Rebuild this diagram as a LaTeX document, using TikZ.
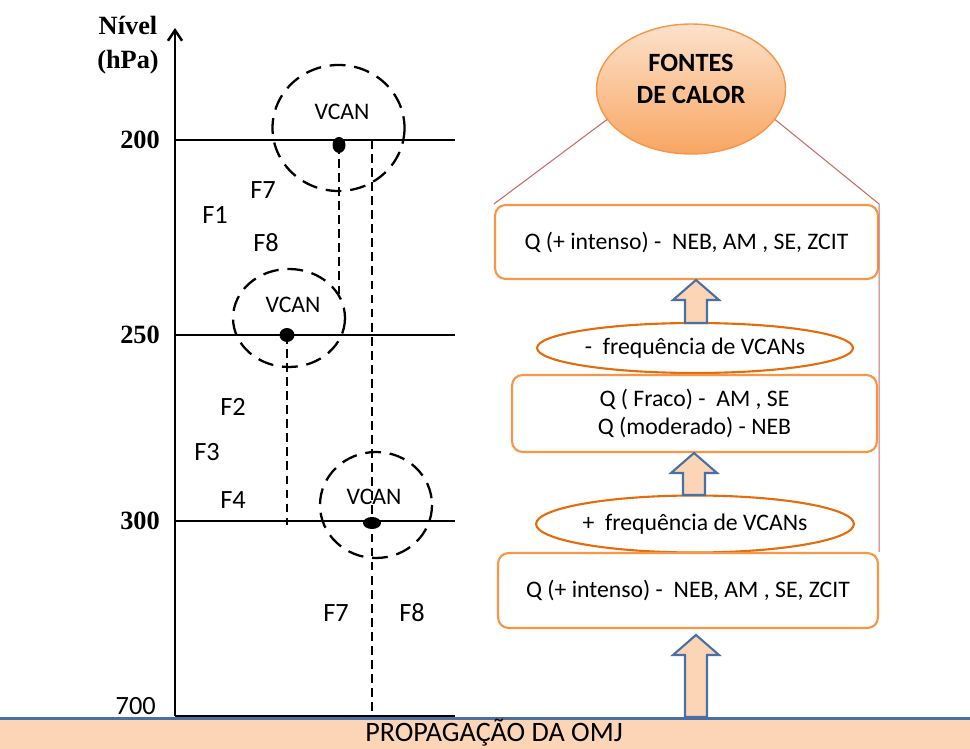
\documentclass[tikz,border=0pt]{standalone}
\usepackage{fontspec}
\setmainfont{Carlito}
\newfontfamily\serifnum{Liberation Serif}
\usetikzlibrary{shapes.geometric,arrows.meta}
\definecolor{BoxClr}{HTML}{F79646}
\definecolor{OvalClr}{HTML}{E46C0A}
\definecolor{PeachClr}{HTML}{FBD5B5}
\definecolor{ArrowClr}{HTML}{4A6FA5}
\definecolor{LinkClr}{HTML}{C0504D}

\begin{document}
\begin{tikzpicture}[x=0.02cm,y=-0.02cm,
  qbox/.style={draw=BoxClr,line width=1.2pt,rounded corners=6pt,fill=white,align=center,inner sep=0pt,font=\fontsize{13.5}{16}\selectfont},
  freq/.style={ellipse,draw=OvalClr,line width=1.2pt,fill=white,minimum width=6.32cm,inner sep=0pt,font=\fontsize{13.5}{16}\selectfont},
  pics/blockup/.style={code={
    \draw[ArrowClr,line width=1.2pt,fill=PeachClr,line join=miter]
      (-11,0) -- (-11,-#1+20) -- (-23,-#1+20) -- (0,-#1) -- (23,-#1+20) -- (11,-#1+20) -- (11,0) -- cycle;}},
  flbl/.style={font=\fontsize{15}{18}\selectfont},
  vlbl/.style={font=\fontsize{13.5}{16}\selectfont},
  nivel/.style={font=\serifnum\bfseries\fontsize{15}{19}\selectfont},
  vcan/.style={dash pattern=on 9pt off 5pt,line width=1.3pt},
  trace/.style={dash pattern=on 5pt off 3pt,line width=0.6pt},
  link/.style={draw=LinkClr!85,line width=0.6pt}]
\useasboundingbox (0,0) rectangle (970,749);

\fill[PeachClr] (0,718) rectangle (970,749);
\draw[ArrowClr,line width=1.2pt] (0,718.5) -- (970,718.5);
\node[font=\fontsize{16}{18}\selectfont] (omj) at (494,733) {PROPAGAÇÃO DA OMJ};

\coordinate (o) at (175,716);
\coordinate (top) at (175,28);
\draw[line width=1.4pt,-{Straight Barb[length=6pt,width=8pt]}] (o) -- (top);
\draw[line width=1.2pt] (o) -- (455,716);
\node[nivel,align=center] (nivel) at (128,45) {Nível\\(hPa)};
\foreach \y/\lab in {140/200,335/250,521/300}{
  \draw[line width=0.8pt] (175,\y) -- (455,\y);
  \node[nivel,anchor=east] (n\lab) at (166,\y) {\lab};
}
\node[flbl,anchor=east] (n700) at (162,706) {700};

\coordinate (d1) at (339,145);
\coordinate (d2) at (287,335);
\coordinate (d3) at (372,523);
\coordinate (t1) at (339,295);
\coordinate (t2) at (372,140);
\coordinate (t3) at (287,525);
\coordinate (t4) at (372,716);

\draw[vcan] (338.5,128) ellipse [x radius=66,y radius=63];
\draw[vcan] (289,318) ellipse [x radius=56,y radius=49];
\draw[vcan] (376,505) ellipse [x radius=56,y radius=53];
\fill (d1) ellipse [x radius=6.5,y radius=8];
\fill (d2) ellipse [x radius=7.5,y radius=7];
\fill (d3) ellipse [x radius=9,y radius=6];
\draw[trace] (d1) -- (t1);
\draw[trace] (t2) -- (t4);
\draw[trace] (d2) -- (t3);
\node[vlbl] (v1) at (342,112) {VCAN};
\node[vlbl] (v2) at (293,305) {VCAN};
\node[vlbl] (v3) at (374,497) {VCAN};

\node[flbl] (f7a) at (263,190) {F7};
\node[flbl] (f1) at (215,215) {F1};
\node[flbl] (f8a) at (266,243) {F8};
\node[flbl] (f2) at (233,407) {F2};
\node[flbl] (f3) at (207,452) {F3};
\node[flbl] (f4) at (233,500) {F4};
\node[flbl] (f7b) at (336,613) {F7};
\node[flbl] (f8b) at (412,613) {F8};

\node[ellipse,draw=BoxClr,line width=0.8pt,top color=PeachClr!70,bottom color=BoxClr!85,minimum width=3.78cm,minimum height=2.6cm] (fontes) at (691,89) {};
\node[align=center,font=\bfseries\fontsize{15}{18}\selectfont] (fontestxt) at (691,79) {FONTES\\DE CALOR};
\node[qbox,minimum width=7.66cm,minimum height=1.48cm] (qtop) at (686.5,242) {Q (+ intenso) -\ \ NEB, AM , SE, ZCIT};
\node[freq,minimum height=1.0cm] (fmenos) at (695,348) {-\ \ frequência de VCANs};
\node[qbox,minimum width=7.3cm,minimum height=1.54cm] (qmid) at (694.5,413.5) {Q ( Fraco) -\ \ AM , SE\\Q (moderado) - NEB};
\node[freq,minimum height=1.14cm] (fmais) at (695,524) {+\ \ frequência de VCANs};
\node[qbox,minimum width=7.6cm,minimum height=1.5cm] (qbot) at (688,590.5) {Q (+ intenso) -\ \ NEB, AM , SE, ZCIT};

\pic (ar1) at (696,323) {blockup=43};
\pic (ar2) at (694,495) {blockup=42};
\pic (ar3) at (696,717) {blockup=82};

\draw[link] (fontes.200) -- (qtop.north west);
\draw[link] (fontes.340) -- (qtop.north east) -- (qbot.north east);
\end{tikzpicture}
\end{document}
